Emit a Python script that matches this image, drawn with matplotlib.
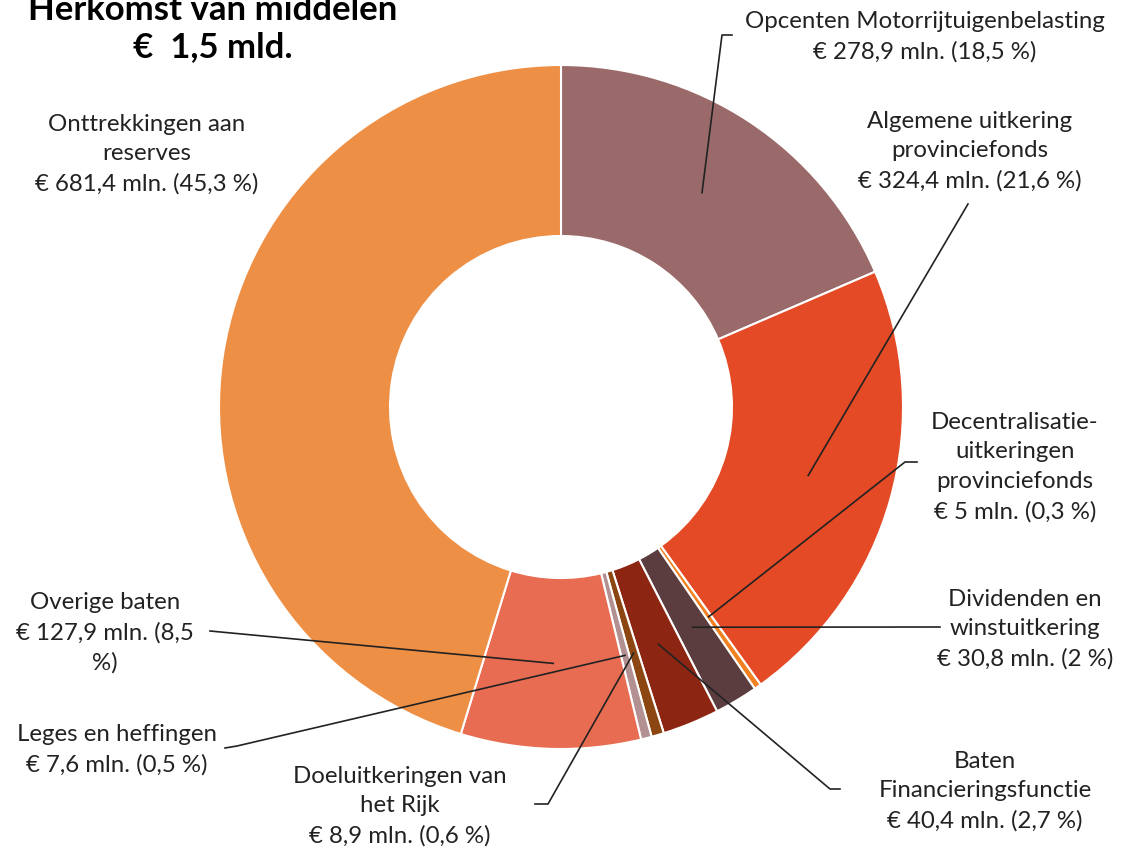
import numpy as np
import matplotlib
matplotlib.use("Agg")
import matplotlib.pyplot as plt

# data, clockwise from 12 o'clock
names = ["Opcenten Motorrijtuigenbelasting", "Algemene uitkering\nprovinciefonds",
         "Decentralisatie-\nuitkeringen\nprovinciefonds", "Dividenden en\nwinstuitkering",
         "Baten\nFinancieringsfunctie", "Doeluitkeringen van\nhet Rijk",
         "Leges en heffingen", "Overige baten", "Onttrekkingen aan\nreserves"]
amounts = [278.9, 324.4, 5, 30.8, 40.4, 8.9, 7.6, 127.9, 681.4]
amount_txt = ["278,9", "324,4", "5", "30,8", "40,4", "8,9", "7,6", "127,9", "681,4"]
pct_txt = ["18,5", "21,6", "0,3", "2", "2,7", "0,6", "0,5", "8,5", "45,3"]
colors = ["#9a6a6a", "#e34a25", "#f08020", "#5b3d3f", "#8c2613",
          "#8c4612", "#b39192", "#e86c52", "#ee8f46"]

plt.rcParams['font.family'] = ['Lato', 'DejaVu Sans']

W, H = 1127, 854
fig = plt.figure(figsize=(W / 100, H / 100), dpi=100)
ax = fig.add_axes([0, 0, 1, 1])

cx, cy, R = 561, H - 408, 342
wedges, _ = ax.pie(amounts, colors=colors, startangle=90, counterclock=False,
                   center=(cx, cy), radius=R, frame=True,
                   wedgeprops=dict(width=R * 0.5, edgecolor='white', linewidth=1.5))
ax.set_xlim(0, W)
ax.set_ylim(0, H)
ax.axis('off')

def py(y):
    return H - y

# label layout: (text center x, text center y, leader path points in px)
layout = [
    (925, 37, [(732, 36), (722, 36)]),
    (970, 151, [(968, 205)]),
    (1015, 467, [(917, 463), (905, 463)]),
    (1025, 629, [(940, 628)]),
    (985, 791, [(840, 790), (830, 790)]),
    (400, 806, [(535, 805), (548, 805)]),
    (117, 750, [(225, 749), (237, 747)]),
    (105, 633, [(210, 632)]),
    (147, 154, None),
]

for i, w in enumerate(wedges):
    tx, ty, path = layout[i]
    amt = "€ %s mln. (%s %%)" % (amount_txt[i], pct_txt[i])
    if i == 7:
        amt = "€ %s mln. (%s\n%%)" % (amount_txt[i], pct_txt[i])
    ax.text(tx, py(ty), names[i] + "\n" + amt, ha='center', va='center',
            fontsize=17.3, color='#222222', linespacing=1.5)
    if path:
        mid = np.deg2rad((w.theta1 + w.theta2) / 2)
        ex = cx + 0.75 * R * np.cos(mid)
        ey = cy + 0.75 * R * np.sin(mid)
        xs = [p[0] for p in path] + [ex]
        ys = [py(p[1]) for p in path] + [ey]
        ax.plot(xs, ys, color='#222222', linewidth=1.2)

ax.text(213, py(10), "Herkomst van middelen", ha='center', va='center',
        fontsize=25, fontweight='bold', color='black')
ax.text(213, py(47), "€  1,5 mld.", ha='center', va='center',
        fontsize=25, fontweight='bold', color='black')

fig.savefig("out.png", dpi=100, facecolor='white')
